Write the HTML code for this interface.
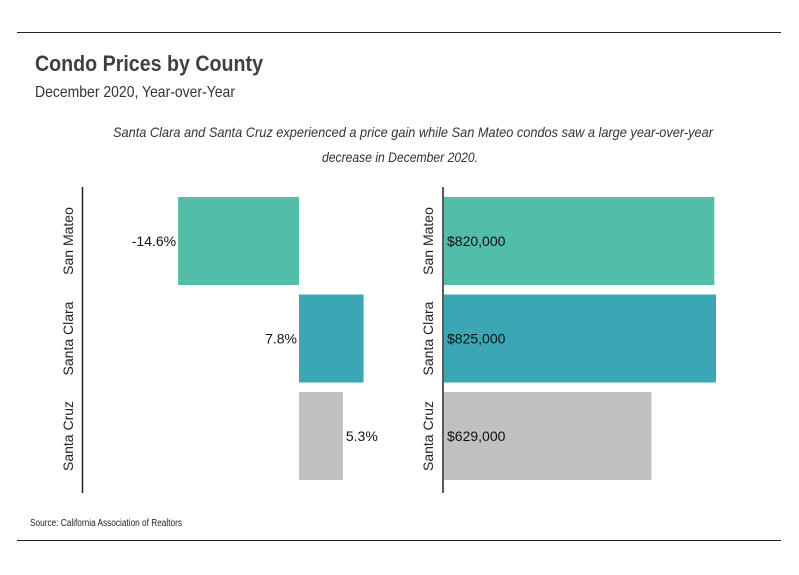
<!DOCTYPE html>
<html><head><meta charset="utf-8"><style>
body{margin:0;background:#fff;}
svg{display:block;font-family:"Liberation Sans",sans-serif;}
</style></head><body>
<svg id="c" width="799" height="575" viewBox="0 0 799 575">
<line x1="17" y1="32.5" x2="781" y2="32.5" stroke="#222" stroke-width="1"/>
<line x1="17" y1="540.5" x2="781" y2="540.5" stroke="#222" stroke-width="1"/>
<text x="35" y="71" font-size="22" font-weight="bold" fill="#3f3f3f" textLength="228" lengthAdjust="spacingAndGlyphs">Condo Prices by County</text>
<text x="35" y="97" font-size="16" fill="#333" textLength="200" lengthAdjust="spacingAndGlyphs">December 2020, Year-over-Year</text>
<text x="113" y="137" font-size="14" font-style="italic" fill="#333" textLength="600" lengthAdjust="spacingAndGlyphs">Santa Clara and Santa Cruz experienced a price gain while San Mateo condos saw a large year-over-year</text>
<text x="322" y="162" font-size="14" font-style="italic" fill="#333" textLength="156" lengthAdjust="spacingAndGlyphs">decrease in December 2020.</text>
<text x="30" y="526" font-size="10" fill="#222" textLength="152" lengthAdjust="spacingAndGlyphs">Source:  California Association of Realtors</text>
<g id="left"></g>
<g id="right"></g>
</svg>
<script>
const categories = ["San Mateo", "Santa Clara", "Santa Cruz"];
const changePct = [-14.6, 7.8, 5.3];
const prices = [820000, 825000, 629000];
const colors = ["#52bea9", "#3ba7b4", "#c0c0c0"];
const NS = "http://www.w3.org/2000/svg";
function mk(tag, attrs, parent){const e=document.createElementNS(NS,tag);for(const k in attrs)e.setAttribute(k,attrs[k]);parent.appendChild(e);return e;}
const bandTop = 197, bandStep = 97.5, barH = 88;
function yBand(i){return bandTop + i*bandStep;}
// left chart
const L = document.getElementById('left');
const zeroX = 299, pxPerPct = 8.28;
function xPct(v){return zeroX + v*pxPerPct;}
const la = mk('line',{x1:82.5,y1:187,x2:82.5,y2:493,stroke:'#222','stroke-width':1.5},L);


categories.forEach((c,i)=>{
  const v = changePct[i];
  const x0 = Math.min(xPct(0), xPct(v)), w = Math.abs(xPct(v)-xPct(0));
  const r = mk('rect',{x:x0,y:yBand(i),width:w,height:barH,fill:colors[i]},L);
  
  
  const cy = yBand(i)+barH/2;
  let t;
  if (v<0) t = mk('text',{x:xPct(v)-2,y:cy+5,'font-size':14,'text-anchor':'end',fill:'#111'},L);
  else if (i===1) t = mk('text',{x:xPct(0)-2,y:cy+5,'font-size':14,'text-anchor':'end',fill:'#111'},L);
  else t = mk('text',{x:xPct(v)+3,y:cy+5,'font-size':14,'text-anchor':'start',fill:'#111'},L);
  t.textContent = (v>0?'':'') + v.toFixed(1) + '%';
  
  
  const cl = mk('text',{x:0,y:0,'font-size':14,'text-anchor':'middle',fill:'#222',transform:`translate(73,${cy}) rotate(-90)`},L);
  cl.textContent = c;
  
  
});
// right chart
const R = document.getElementById('right');
const rx0 = 444, pxPerDollar = 272/825000;
function xPrice(v){return rx0 + v*pxPerDollar;}
const ra = mk('line',{x1:443,y1:187,x2:443,y2:493,stroke:'#222','stroke-width':1.5},R);


categories.forEach((c,i)=>{
  const v = prices[i];
  const r = mk('rect',{x:xPrice(0),y:yBand(i),width:xPrice(v)-xPrice(0),height:barH,fill:colors[i]},R);
  
  
  const cy = yBand(i)+barH/2;
  const t = mk('text',{x:xPrice(0)+3,y:cy+5,'font-size':14,fill:'#111'},R);
  t.textContent = '$' + v.toLocaleString('en-US');
  
  
  const cl = mk('text',{x:0,y:0,'font-size':14,'text-anchor':'middle',fill:'#222',transform:`translate(433,${cy}) rotate(-90)`},R);
  cl.textContent = c;
  
  
});
</script>
</body></html>
